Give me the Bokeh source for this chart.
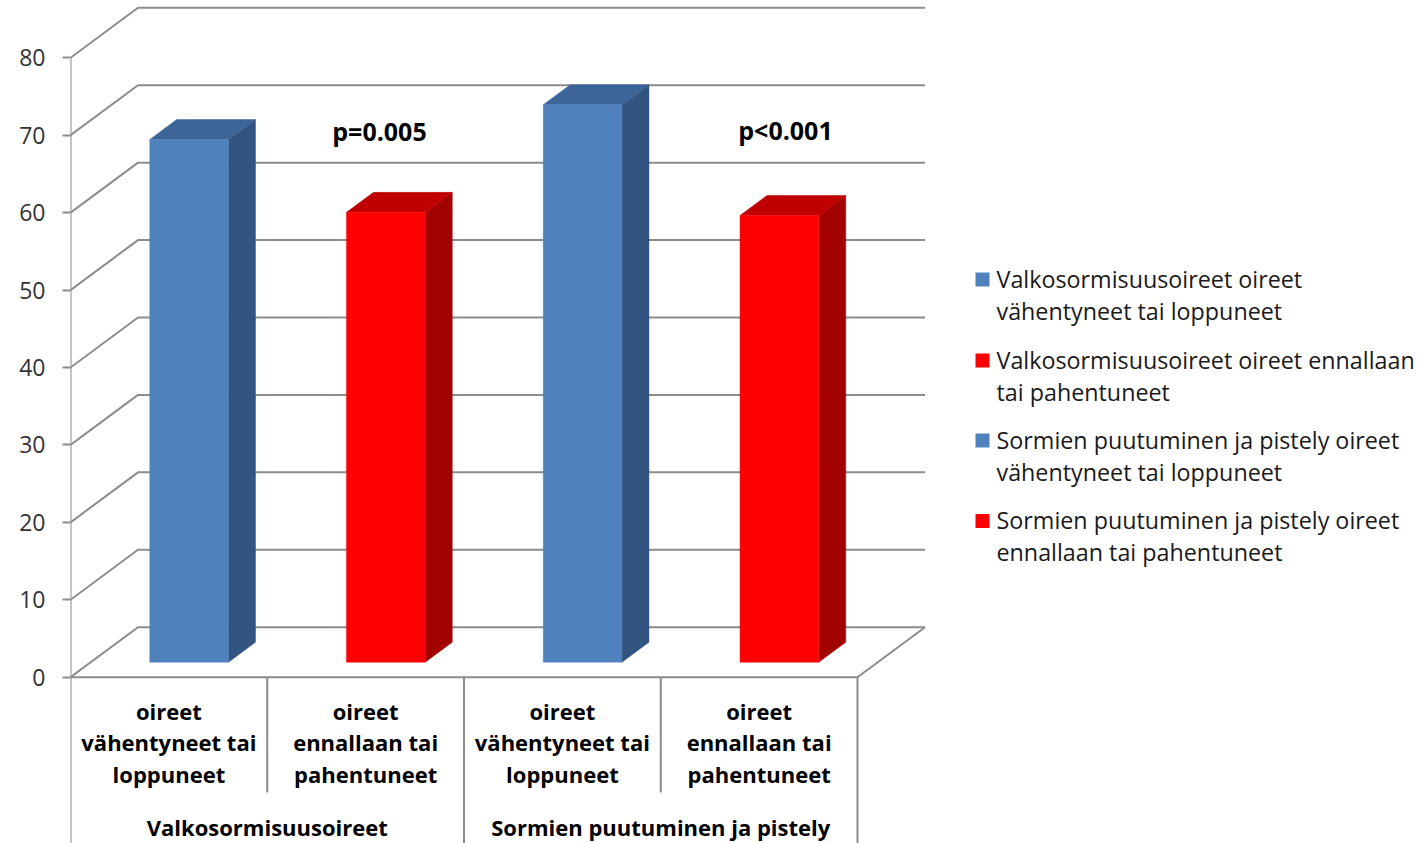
from bokeh.plotting import figure
from bokeh.models import Range1d, FixedTicker
from bokeh.core.properties import value
from bokeh.embed import file_html
from bokeh.resources import INLINE

# ---------------- data ----------------
group_names = ["Valkosormisuusoireet", "Sormien puutuminen ja pistely"]
category_lines = [
    ["oireet", "vähentyneet tai", "loppuneet"],
    ["oireet", "ennallaan tai", "pahentuneet"],
    ["oireet", "vähentyneet tai", "loppuneet"],
    ["oireet", "ennallaan tai", "pahentuneet"],
]
bar_values = [67.5, 58.1, 72.0, 57.7]
series_names = [
    ["Valkosormisuusoireet oireet", "vähentyneet tai loppuneet"],
    ["Valkosormisuusoireet oireet ennallaan", "tai pahentuneet"],
    ["Sormien puutuminen ja pistely oireet", "vähentyneet tai loppuneet"],
    ["Sormien puutuminen ja pistely oireet", "ennallaan tai pahentuneet"],
]
p_labels = ["p=0.005", "p<0.001"]
y_ticks = [0, 10, 20, 30, 40, 50, 60, 70, 80]

# ---------------- styles ----------------
FRONT = ["#4F81BD", "#FF0000", "#4F81BD", "#FF0000"]
TOP = ["#3C6597", "#C00000", "#3C6597", "#C00000"]
SIDE = ["#325480", "#A30000", "#325480", "#A30000"]
GRID = "#8C8C8C"
FONT = value("Open Sans")

# ---------------- geometry ----------------
W, H = 1419, 843
LEFT = 70
PX_PER_CAT = 196.75
PX_PER_VAL = 7.7425
ZERO_Y = 676.7
Y_END = ZERO_Y / PX_PER_VAL
Y_START = -(H - ZERO_Y) / PX_PER_VAL
X_END = (W - LEFT) / PX_PER_CAT
DEPTH_DX = 67.5 / PX_PER_CAT
DEPTH_DY = 50.0 / PX_PER_VAL
N = len(bar_values)
BASE_FIX = 10.0  # renderer places alphabetic baseline ~10px lower


def proj(x, v, d):
    return x + d * DEPTH_DX, v + d * DEPTH_DY


def sx(px):
    return (px - LEFT) / PX_PER_CAT


def sy(py):
    return (ZERO_Y - py) / PX_PER_VAL


def sb(py):
    return sy(py - BASE_FIX)


p = figure(width=W, height=H, output_backend="svg", toolbar_location=None,
           x_range=Range1d(0, X_END), y_range=Range1d(Y_START, Y_END),
           x_axis_location=None, y_axis_location="left",
           min_border_left=LEFT, min_border_right=0, min_border_top=0, min_border_bottom=0)
p.outline_line_color = None
p.xgrid.visible = False
p.ygrid.visible = False
p.background_fill_color = "white"
p.border_fill_color = "white"

ax = p.yaxis[0]
ax.ticker = FixedTicker(ticks=y_ticks)
ax.axis_line_color = None
ax.major_tick_out = 8
ax.major_tick_in = 0
ax.major_tick_line_color = GRID
ax.major_tick_line_width = 2
ax.minor_tick_line_color = None
ax.major_label_text_font = "Open Sans"
ax.major_label_text_font_size = "23px"
ax.major_label_text_color = "#333333"
ax.major_label_standoff = 17

# back wall + side wall gridlines
gx, gy = [], []
for t in y_ticks:
    a = proj(0, t, 0)
    b = proj(0, t, 1)
    c = proj(N, t, 1)
    gx.append([a[0], b[0], c[0]])
    gy.append([a[1], b[1], c[1]])
p.multi_line(gx, gy, line_color=GRID, line_width=2)

# floor edges
f0 = proj(0, 0, 0)
f1 = proj(N, 0, 0)
f2 = proj(N, 0, 1)
p.line([f0[0], f1[0], f2[0]], [f0[1], f1[1], f2[1]], line_color=GRID, line_width=2)

# left axis line and category dividers
vx, vy = [[0, 0]], [[y_ticks[-1], Y_START]]
for i in range(1, N + 1):
    vx.append([i, i])
    vy.append([0, Y_START if i % 2 == 0 else sy(792)])
p.multi_line(vx, vy, line_color=GRID, line_width=2)

# 3D bars
BAR_W = 0.4
D0, D1 = 0.3, 0.7
fx, fy, tx, ty, sxs, sys_ = [], [], [], [], [], []
for i, v in enumerate(bar_values):
    x0 = i + 0.5 - BAR_W / 2
    x1 = i + 0.5 + BAR_W / 2
    pts = [proj(x0, 0, D0), proj(x1, 0, D0), proj(x1, v, D0), proj(x0, v, D0)]
    fx.append([q[0] for q in pts]); fy.append([q[1] for q in pts])
    pts = [proj(x0, v, D0), proj(x1, v, D0), proj(x1, v, D1), proj(x0, v, D1)]
    tx.append([q[0] for q in pts]); ty.append([q[1] for q in pts])
    pts = [proj(x1, 0, D0), proj(x1, 0, D1), proj(x1, v, D1), proj(x1, v, D0)]
    sxs.append([q[0] for q in pts]); sys_.append([q[1] for q in pts])
p.patches(sxs, sys_, fill_color=SIDE, line_color=SIDE, line_width=0.5)
p.patches(tx, ty, fill_color=TOP, line_color=TOP, line_width=0.5)
p.patches(fx, fy, fill_color=FRONT, line_color=FRONT, line_width=0.5)

# p-values
p.text(x=[sx(379), sx(785)], y=[sb(140), sb(139)], text=p_labels,
       text_font=FONT, text_font_size="25px", text_font_style="bold",
       text_align="center", text_baseline="alphabetic", text_color="#000000")

# category labels
baselines = [720, 751.5, 783]
cx, cy, ct = [], [], []
for i, lines in enumerate(category_lines):
    for j, line in enumerate(lines):
        cx.append(i + 0.5)
        cy.append(sb(baselines[j]))
        ct.append(line)
p.text(x=cx, y=cy, text=ct, text_font=FONT, text_font_size="22px", text_font_style="bold",
       text_align="center", text_baseline="alphabetic", text_color="#000000")

# group labels
p.text(x=[2 * g + 1 for g in range(len(group_names))], y=[sb(836)] * len(group_names),
       text=group_names, text_font=FONT, text_font_size="22px", text_font_style="bold",
       text_align="center", text_baseline="alphabetic", text_color="#000000")

# legend (drawn)
sq_y = [279, 360, 440, 520.5]
lx, ly, lt = [], [], []
for k, lines in enumerate(series_names):
    for j, line in enumerate(lines):
        lx.append(sx(996))
        ly.append(sb(sq_y[k] + 9 + 32 * j))
        lt.append(line)
p.scatter(x=[sx(982)] * N, y=[sy(v) for v in sq_y], marker="square", size=14,
          fill_color=FRONT, line_color=None)
p.text(x=lx, y=ly, text=lt, text_font=FONT, text_font_size="23.3px",
       text_align="left", text_baseline="alphabetic", text_color="#1a1a1a")

open("out.html", "w").write(file_html(p, INLINE))
